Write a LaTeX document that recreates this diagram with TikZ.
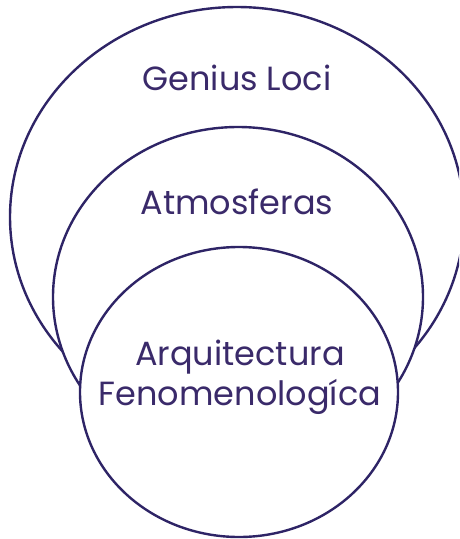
\documentclass[tikz,border=0pt]{standalone}
\usepackage{fontspec}
\setmainfont{Poppins}
\usetikzlibrary{shapes.geometric}
\definecolor{ink}{HTML}{2E2466}
\definecolor{txt}{HTML}{3A2A6A}
\tikzset{
  ring/.style={ellipse, draw=ink, line width=2.4pt, fill=white, inner sep=0pt},
  lbl/.style={text=txt, font=\fontsize{33.5}{40}\selectfont, anchor=base, inner sep=0pt}
}
\begin{document}
\begin{tikzpicture}[x=1pt, y=-1pt]
\useasboundingbox (0,0) rectangle (459,539);
\begin{scope}
\clip (0,0) rectangle (459,539);
\node[ring, minimum width=454pt, minimum height=420pt] (big) at (237,217) {};
\node[ring, minimum width=370pt, minimum height=340pt] (mid) at (238,297) {};
\node[ring, minimum width=318pt, minimum height=290pt] (small) at (239,392) {};
\end{scope}
\node[lbl] (gl) at (237,90) {Genius Loci};
\node[lbl] (at) at (237,214) {Atmosferas};
\node[lbl] (ar) at (240,365) {Arquitectura};
\node[lbl] (fe) at (240,405) {Fenomenologíca};
\end{tikzpicture}
\end{document}
